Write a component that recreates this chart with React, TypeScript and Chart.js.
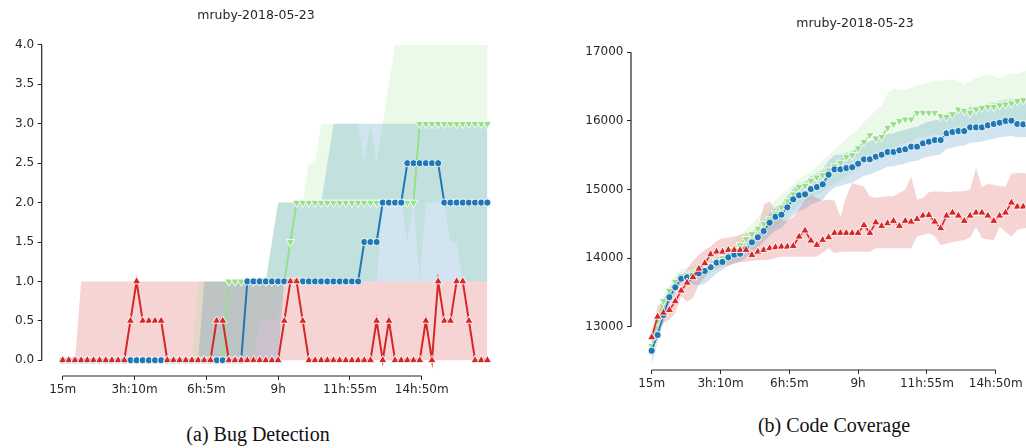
import { useEffect, useRef } from 'react';
import { Chart, registerables } from 'chart.js';

Chart.register(...registerables);

// Elapsed campaign time (minutes) of every sample
const MINUTES = [
  15, 30, 45, 60, 75, 90, 105, 120, 135, 150,
  165, 180, 195, 210, 225, 240, 255, 270, 285, 300,
  315, 330, 345, 360, 375, 390, 405, 420, 435, 450,
  465, 480, 495, 510, 525, 540, 555, 570, 585, 600,
  615, 630, 645, 660, 675, 690, 705, 720, 735, 750,
  765, 780, 795, 810, 825, 840, 855, 870, 885, 900,
  915, 930, 945, 960, 975, 990, 1005, 1020, 1035, 1050,
];

const TIME_TICKS = [15, 190, 365, 540, 715, 890];
const TIME_TICK_LABELS = ['15m', '3h:10m', '6h:5m', '9h', '11h:55m', '14h:50m'];

const BUG_TICKS = [0, 0.5, 1, 1.5, 2, 2.5, 3, 3.5, 4];
const COVERAGE_TICKS = [13000, 14000, 15000, 16000, 17000];

const TITLE = 'mruby-2018-05-23';

// ---- bugs found (median and spread per fuzzer) ----
const RED_BUGS = [
  0, 0, 0, 0, 0, 0, 0, 0, 0, 0,
  0, 0.5, 1, 0.5, 0.5, 0.5, 0.5, 0, 0, 0,
  0, 0, 0, 0, 0, 0.5, 0.5, 0, 0, 0,
  0, 0, 0, 0, 0, 0, 0.5, 1, 1, 0.5,
  0, 0, 0, 0, 0, 0, 0, 0, 0, 0,
  0, 0.5, 0, 0.5, 0, 0, 0, 0, 0, 0.5,
  0, 1, 0.5, 0.5, 1, 1, 0.5, 0, 0, 0,
];
const RED_BUGS_LO = [
  0, 0, 0, 0, 0, 0, 0, 0, 0, 0,
  0, 0, 0, 0, 0, 0, 0, 0, 0, 0,
  0, 0, 0, 0, 0, 0, 0, 0, 0, 0,
  0, 0, 0, 0, 0, 0, 0, 0, 0, 0,
  0, 0, 0, 0, 0, 0, 0, 0, 0, 0,
  0, 0, 0, 0, 0, 0, 0, 0, 0, 0,
  0, 0, 0, 0, 0, 0, 0, 0, 0, 0,
];
const RED_BUGS_HI = [
  0, 0, 0, 1, 1, 1, 1, 1, 1, 1,
  1, 1, 1, 1, 1, 1, 1, 1, 1, 1,
  1, 1, 1, 1, 1, 1, 1, 1, 1, 1,
  1, 1, 1, 1, 1, 1, 1, 1, 1, 1,
  1, 1, 1, 1, 1, 1, 1, 1, 1, 1,
  1, 1, 1, 1, 1, 1, 1, 1, 1, 1,
  1, 1, 1, 1, 1, 1, 1, 1, 1, 1,
];

const BLUE_BUGS = [
  0, 0, 0, 0, 0, 0, 0, 0, 0, 0,
  0, 0, 0, 0, 0, 0, 0, 0, 0, 0,
  0, 0, 0, 0, 0, 0, 0, 0, 0, 0,
  1, 1, 1, 1, 1, 1, 1, 1, 1, 1,
  1, 1, 1, 1, 1, 1, 1, 1, 1, 1.5,
  1.5, 1.5, 2, 2, 2, 2, 2.5, 2.5, 2.5, 2.5,
  2.5, 2.5, 2, 2, 2, 2, 2, 2, 2, 2,
];
const BLUE_BUGS_LO = [
  0, 0, 0, 0, 0, 0, 0, 0, 0, 0,
  0, 0, 0, 0, 0, 0, 0, 0, 0, 0,
  0, 0, 0, 0, 0, 0, 0, 0, 0, 0,
  0, 0, 0, 0, 0, 0, 1, 1, 1, 1,
  1, 1, 1, 1, 1, 1, 1, 1, 1, 1,
  1, 1, 1, 1, 1, 1, 1, 1, 1, 1,
  1, 1, 1, 1, 1, 1, 1, 1, 1, 1,
];
const BLUE_BUGS_HI = [
  0, 0, 0, 0, 0, 0, 0, 0, 0, 0,
  0, 0, 0, 0, 0, 0, 0, 0, 0, 0,
  0, 0, 0, 1, 1, 1, 1, 1, 1, 1,
  1, 1, 1, 1, 1.5, 2, 2, 2, 2, 2,
  2, 2, 2, 2.5, 3, 3, 3, 3, 3, 3,
  3, 3, 3, 3, 3, 3, 3, 3, 3, 3,
  3, 3, 3, 3, 3, 3, 3, 3, 3, 3,
];

const GREEN_BUGS = [
  0, 0, 0, 0, 0, 0, 0, 0, 0, 0,
  0, 0, 0, 0, 0, 0, 0, 0, 0, 0,
  0, 0, 0, 0, 0, 0, 0, 1, 1, 1,
  1, 1, 1, 1, 1, 1, 1, 1.5, 2, 2,
  2, 2, 2, 2, 2, 2, 2, 2, 2, 2,
  2, 2, 2, 2, 2, 2, 2, 2, 3, 3,
  3, 3, 3, 3, 3, 3, 3, 3, 3, 3,
];
const GREEN_BUGS_LO = [
  0, 0, 0, 0, 0, 0, 0, 0, 0, 0,
  0, 0, 0, 0, 0, 0, 0, 0, 0, 0,
  0, 0, 0, 0, 0, 0, 0, 0, 0, 0,
  0, 0, 0.5, 0.5, 0.5, 0.5, 1, 1, 1, 1,
  1, 1, 1, 1, 1, 1, 1, 1, 1, 1,
  1, 1, 2, 2, 2, 2, 1.5, 2, 1, 2,
  2, 2, 2, 1.5, 1.5, 1, 1, 1, 1, 1,
];
const GREEN_BUGS_HI = [
  0, 0, 0, 0, 0, 0, 0, 0, 0, 0,
  0, 0, 0, 0, 0, 0, 0, 0, 0, 0,
  0, 0, 1, 1, 1, 1, 1, 1, 1, 1,
  1, 1, 1, 1, 1.5, 2, 2, 2, 2, 2,
  2.5, 2.5, 3, 3, 3, 3, 3, 3, 3, 2.5,
  3, 2.5, 3, 3.5, 4, 4, 4, 4, 4, 4,
  4, 4, 4, 4, 4, 4, 4, 4, 4, 4,
];

// ---- covered edges (mean and spread per fuzzer) ----
const RED_COV = [
  12845, 13146, 13204, 13243, 13370, 13525, 13641, 13720, 13845, 13924,
  14055, 14093, 14093, 14118, 14118, 14118, 14118, 14045, 14093, 14118,
  14143, 14157, 14166, 14166, 14176, 14312, 14400, 14254, 14191, 14264,
  14303, 14365, 14365, 14365, 14365, 14365, 14480, 14365, 14520, 14468,
  14507, 14541, 14468, 14541, 14530, 14570, 14618, 14628, 14530, 14434,
  14618, 14662, 14618, 14541, 14618, 14662, 14662, 14618, 14541, 14618,
  14662, 14808, 14749, 14749, 14760, 14770, 14760, 14780, 14790, 14800,
];
const RED_COV_LO = [
  12700, 12950, 13050, 13100, 13200, 13450, 13360, 13420, 13620, 13720,
  13820, 13860, 13880, 13900, 13920, 13940, 13950, 13960, 13970, 13970,
  13975, 14000, 14020, 14020, 14020, 14020, 14020, 14020, 14020, 14080,
  14143, 14070, 14093, 14093, 14093, 14093, 14093, 14093, 14143, 14143,
  14143, 14143, 14143, 14143, 14143, 14312, 14340, 14361, 14320, 14191,
  14210, 14230, 14250, 14264, 14300, 14458, 14288, 14270, 14264, 14458,
  14380, 14312, 14410, 14434, 14440, 14450, 14450, 14460, 14460, 14470,
];
const RED_COV_HI = [
  12950, 13300, 13380, 13420, 13560, 13720, 13840, 13960, 14050, 14120,
  14170, 14250, 14290, 14300, 14320, 14340, 14370, 14400, 14420, 14780,
  14830, 14690, 14560, 14540, 14600, 14720, 14850, 14920, 14880, 14840,
  14850, 14840, 14600, 14900, 15090, 15070, 15040, 14900, 14880, 14890,
  14900, 14900, 14950, 15000, 15190, 14850, 14880, 14960, 14970, 14970,
  14960, 14970, 14970, 14980, 15000, 15310, 15040, 15080, 15070, 15050,
  15040, 15230, 15240, 15240, 15230, 15250, 15260, 15240, 15250, 15260,
];

const BLUE_COV = [
  12650, 12879, 13170, 13430, 13574, 13700, 13720, 13743, 13778, 13812,
  13866, 13933, 13943, 14012, 14050, 14064, 14137, 14230, 14303, 14395,
  14516, 14603, 14633, 14740, 14857, 14915, 14930, 15007, 15036, 15076,
  15216, 15294, 15294, 15313, 15324, 15376, 15440, 15440, 15478, 15507,
  15547, 15547, 15571, 15586, 15624, 15624, 15673, 15697, 15720, 15720,
  15819, 15838, 15852, 15852, 15906, 15906, 15906, 15936, 15955, 15974,
  15999, 16003, 15955, 15950, 15960, 15975, 15990, 16000, 16010, 16020,
];
const BLUE_COV_LO = [
  12450, 12780, 13050, 13330, 13500, 13640, 13660, 13620, 13600, 13630,
  13700, 13780, 13830, 13880, 13920, 13950, 14010, 14080, 14150, 14230,
  14330, 14400, 14440, 14530, 14630, 14690, 14720, 14780, 14810, 14850,
  14960, 15030, 15050, 15080, 15100, 15150, 15200, 15220, 15260, 15290,
  15330, 15340, 15360, 15380, 15410, 15420, 15460, 15480, 15500, 15510,
  15590, 15610, 15630, 15640, 15680, 15690, 15700, 15720, 15740, 15760,
  15770, 15780, 15760, 15760, 15770, 15780, 15790, 15800, 15810, 15820,
];
const BLUE_COV_HI = [
  12800, 12980, 13280, 13540, 13690, 13790, 13800, 13820, 13850, 13880,
  13940, 14010, 14030, 14100, 14150, 14170, 14250, 14340, 14420, 14520,
  14650, 14740, 14790, 14900, 15020, 15090, 15110, 15200, 15240, 15290,
  15420, 15500, 15510, 15540, 15560, 15620, 15690, 15700, 15740, 15770,
  15810, 15820, 15850, 15870, 15900, 15910, 15960, 15990, 16010, 16020,
  16110, 16130, 16150, 16160, 16210, 16210, 16220, 16250, 16270, 16290,
  16310, 16320, 16280, 16270, 16280, 16290, 16300, 16310, 16320, 16330,
];

const GREEN_COV = [
  12720, 13080, 13375, 13525, 13656, 13740, 13760, 13780, 13810, 13840,
  13890, 13950, 14000, 14060, 14120, 14190, 14280, 14350, 14430, 14500,
  14566, 14650, 14740, 14830, 14930, 15041, 15056, 15129, 15178, 15211,
  15280, 15340, 15391, 15478, 15503, 15601, 15697, 15794, 15746, 15770,
  15901, 15955, 15999, 16023, 16023, 16120, 16120, 16120, 16120, 16071,
  16061, 16100, 16169, 16149, 16120, 16169, 16192, 16207, 16207, 16232,
  16242, 16257, 16290, 16304, 16310, 16320, 16330, 16335, 16345, 16350,
];
const GREEN_COV_LO = [
  12600, 12950, 13250, 13420, 13560, 13640, 13660, 13680, 13700, 13730,
  13780, 13840, 13890, 13940, 13990, 14050, 14130, 14200, 14270, 14340,
  14400, 14470, 14540, 14620, 14700, 14790, 14820, 14880, 14930, 14970,
  15030, 15090, 15140, 15200, 15240, 15300, 15380, 15440, 15450, 15480,
  15560, 15610, 15650, 15680, 15700, 15760, 15770, 15780, 15800, 15790,
  15800, 15830, 15870, 15870, 15860, 15890, 15910, 15930, 15940, 15960,
  15970, 15990, 16000, 16010, 16020, 16030, 16040, 16050, 16060, 16070,
];
const GREEN_COV_HI = [
  12850, 13180, 13470, 13620, 13760, 13840, 13860, 13880, 13910, 13940,
  13990, 14050, 14110, 14180, 14250, 14330, 14420, 14500, 14590, 14680,
  14760, 14850, 14930, 14990, 15080, 15160, 15200, 15260, 15340, 15420,
  15500, 15580, 15660, 15740, 15800, 15880, 15980, 16060, 16160, 16220,
  16400, 16470, 16460, 16450, 16480, 16520, 16540, 16560, 16580, 16590,
  16600, 16600, 16580, 16530, 16580, 16620, 16650, 16680, 16650, 16620,
  16660, 16700, 16690, 16720, 16740, 16750, 16760, 16770, 16780, 16790,
];

const BLUE = '#1f77b4';
const GREEN = '#98df8a';
const RED = '#d62728';
const BLUE_FILL = 'rgba(31,119,180,0.2)';
const GREEN_FILL = 'rgba(152,223,138,0.2)';
const RED_FILL = 'rgba(214,39,40,0.2)';
const INK = '#262626';

const points = (values: number[]) => values.map((y, i) => ({ x: MINUTES[i], y }));

// Seaborn-style trimmed spines: each axis line only spans first..last tick
const trimmedSpines = {
  id: 'trimmedSpines',
  afterDraw(chart: any) {
    const { ctx, chartArea, scales } = chart;
    const xs = scales.x;
    const ys = scales.y;
    const xt = xs.ticks;
    const yt = ys.ticks;
    ctx.save();
    ctx.strokeStyle = INK;
    ctx.lineWidth = 1.2;
    ctx.beginPath();
    ctx.moveTo(chartArea.left, ys.getPixelForValue(yt[0].value));
    ctx.lineTo(chartArea.left, ys.getPixelForValue(yt[yt.length - 1].value));
    ctx.moveTo(xs.getPixelForValue(xt[0].value), chartArea.bottom);
    ctx.lineTo(xs.getPixelForValue(xt[xt.length - 1].value), chartArea.bottom);
    ctx.stroke();
    ctx.restore();
  },
};

type PanelSpec = {
  red: number[]; redLo: number[]; redHi: number[];
  blue: number[]; blueLo: number[]; blueHi: number[];
  green: number[]; greenLo: number[]; greenHi: number[];
  xMin: number; xMax: number;
  yMin: number; yMax: number; yTicks: number[];
  yFormat: (v: number) => string;
  yAxisWidth: number;
  titlePadTop: number; titlePadBottom: number;
  lineWidth: number;
};

function buildConfig(p: PanelSpec): any {
  const line = (data: number[], color: string, style: string, rotation: number, radius: number, order: number) => ({
    data: points(data),
    borderColor: color,
    backgroundColor: color,
    borderWidth: p.lineWidth,
    pointStyle: style,
    pointRotation: rotation,
    pointRadius: radius,
    pointBackgroundColor: color,
    pointBorderColor: '#ffffff',
    pointBorderWidth: 0.9,
    tension: 0,
    fill: false,
    order,
  });
  const bound = (data: number[], fillColor: string | null, order: number) => ({
    data: points(data),
    borderColor: 'rgba(0,0,0,0)',
    borderWidth: 0,
    pointRadius: 0,
    tension: 0,
    backgroundColor: fillColor || 'rgba(0,0,0,0)',
    fill: fillColor ? '-1' : false,
    order,
  });
  return {
    type: 'line',
    data: {
      datasets: [
        line(p.red, RED, 'triangle', 0, 4.8, 0),
        line(p.blue, BLUE, 'circle', 0, 3.6, 1),
        line(p.green, GREEN, 'triangle', 180, 4.8, 2),
        bound(p.blueLo, null, 10),
        bound(p.blueHi, BLUE_FILL, 11),
        bound(p.greenLo, null, 12),
        bound(p.greenHi, GREEN_FILL, 13),
        bound(p.redLo, null, 14),
        bound(p.redHi, RED_FILL, 15),
      ],
    },
    options: {
      animation: false,
      responsive: false,
      events: [],
      layout: { padding: 0, autoPadding: false },
      plugins: {
        legend: { display: false },
        tooltip: { enabled: false },
        title: {
          display: true,
          text: TITLE,
          color: INK,
          font: { family: 'DejaVu Sans', size: 12.5, weight: 'normal', lineHeight: 1.2 },
          padding: { top: p.titlePadTop, bottom: p.titlePadBottom },
        },
      },
      scales: {
        x: {
          type: 'linear',
          min: p.xMin,
          max: p.xMax,
          border: { display: false },
          grid: { display: true, drawOnChartArea: false, drawTicks: true, tickLength: 4, color: INK, lineWidth: 1 },
          ticks: {
            color: INK,
            font: { family: 'DejaVu Sans', size: 12 },
            padding: 3,
            autoSkip: false,
            maxRotation: 0,
            callback: (_v: number, i: number) => TIME_TICK_LABELS[i],
          },
          afterBuildTicks: (s: any) => { s.ticks = TIME_TICKS.map((value) => ({ value })); },
          afterFit: (s: any) => { s.height = 24; },
        },
        y: {
          type: 'linear',
          min: p.yMin,
          max: p.yMax,
          border: { display: false },
          grid: { display: true, drawOnChartArea: false, drawTicks: true, tickLength: 4, color: INK, lineWidth: 1 },
          ticks: {
            color: INK,
            font: { family: 'DejaVu Sans', size: 12 },
            padding: 3.5,
            callback: (v: number) => p.yFormat(v),
          },
          afterBuildTicks: (s: any) => { s.ticks = p.yTicks.map((value) => ({ value })); },
          afterFit: (s: any) => { s.width = p.yAxisWidth; },
        },
      },
    },
    plugins: [trimmedSpines],
  };
}

function Panel({ spec, width, height, left }: { spec: PanelSpec; width: number; height: number; left: number }) {
  const ref = useRef<HTMLCanvasElement | null>(null);
  useEffect(() => {
    if (!ref.current) return;
    const chart = new Chart(ref.current, buildConfig(spec));
    return () => chart.destroy();
  }, [spec]);
  return (
    <canvas
      ref={ref}
      width={width}
      height={height}
      style={{ position: 'absolute', left, top: 0, width, height }}
    />
  );
}

const BUG_PANEL: PanelSpec = {
  red: RED_BUGS, redLo: RED_BUGS_LO, redHi: RED_BUGS_HI,
  blue: BLUE_BUGS, blueLo: BLUE_BUGS_LO, blueHi: BLUE_BUGS_HI,
  green: GREEN_BUGS, greenLo: GREEN_BUGS_LO, greenHi: GREEN_BUGS_HI,
  xMin: -36.2, xMax: 1110,
  yMin: -0.2, yMax: 4.2, yTicks: BUG_TICKS,
  yFormat: (v) => v.toFixed(1),
  yAxisWidth: 41.7,
  titlePadTop: 8, titlePadBottom: 6.2,
  lineWidth: 2,
};

const COVERAGE_PANEL: PanelSpec = {
  red: RED_COV, redLo: RED_COV_LO, redHi: RED_COV_HI,
  blue: BLUE_COV, blueLo: BLUE_COV_LO, blueHi: BLUE_COV_HI,
  green: GREEN_COV, greenLo: GREEN_COV_LO, greenHi: GREEN_COV_HI,
  xMin: -37.65, xMax: 1231.6,
  yMin: 12369, yMax: 17223, yTicks: COVERAGE_TICKS,
  yFormat: (v) => String(v),
  yAxisWidth: 51,
  titlePadTop: 16, titlePadBottom: 6,
  lineWidth: 1.6,
};

const captionStyle: any = {
  position: 'absolute',
  textAlign: 'center',
  fontFamily: '"Liberation Serif", serif',
  fontSize: 20,
  color: '#111',
  whiteSpace: 'nowrap',
};

export default function App() {
  return (
    <div
      style={{
        position: 'fixed', left: 0, top: 0, width: 1026, height: 448,
        overflow: 'hidden', background: '#ffffff',
      }}
    >
      <Panel spec={BUG_PANEL} width={512} height={400} left={0} />
      <Panel spec={COVERAGE_PANEL} width={550} height={394} left={580} />
      <div style={{ ...captionStyle, left: 0, width: 516, top: 423 }}>(a) Bug Detection</div>
      <div style={{ ...captionStyle, left: 580, width: 508, top: 414 }}>(b) Code Coverage</div>
    </div>
  );
}
